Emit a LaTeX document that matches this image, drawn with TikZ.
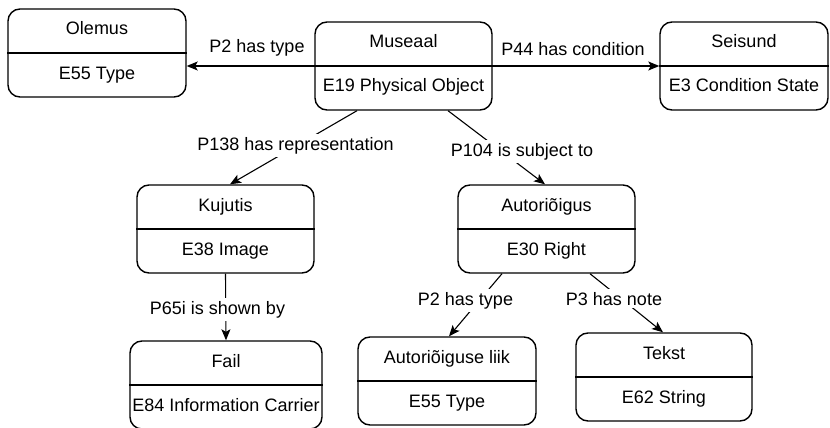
\documentclass[tikz,border=0pt]{standalone}
\usepackage{fontspec}
\setmainfont{Liberation Sans}
\usetikzlibrary{arrows.meta}

\tikzset{
  classbox/.style={draw, line width=1.4pt, rounded corners=12pt,
    minimum height=88pt, inner sep=0pt},
  divider/.style={line width=1.4pt},
  txt/.style={inner sep=0pt, anchor=base, font=\fontsize{18}{21}\selectfont},
  lbl/.style={fill=white, inner sep=3pt, anchor=base, font=\fontsize{18}{21}\selectfont},
  link/.style={line width=1.1pt, -{Stealth[length=11pt,width=9pt,inset=2.5pt]}},
}

% class box: name, x, y, width, title, class
\newcommand\crmclass[6]{%
  \node[classbox, minimum width=#4] (#1) at (#2,#3) {};
  \draw[divider] (#1.west) -- (#1.east);
  \node[txt] (#1-t) at ([yshift=18pt]#1.center) {#5};
  \node[txt] (#1-c) at ([yshift=-26pt]#1.center) {#6};
}

\begin{document}
\begin{tikzpicture}[x=1pt, y=-1pt]
  \useasboundingbox (0,0) rectangle (830,428);

  % classes
  \crmclass{ole}{97}{53}{178pt}{Olemus}{E55 Type}
  \crmclass{mus}{403.5}{66}{177pt}{Museaal}{E19 Physical Object}
  \crmclass{sei}{744}{66}{168pt}{Seisund}{E3 Condition State}
  \crmclass{kuj}{225.5}{229}{177pt}{Kujutis}{E38 Image}
  \crmclass{aut}{546.5}{229}{177pt}{Autoriõigus}{E30 Right}
  \crmclass{fail}{226}{385}{192pt}{Fail}{E84 Information Carrier}
  \crmclass{liik}{447}{381}{178pt}{Autoriõiguse liik}{E55 Type}
  \crmclass{tek}{664}{377}{176pt}{Tekst}{E62 String}

  % properties
  \draw[link] (mus.west) -- (mus.west -| ole.east);
  \draw[link] (mus.east) -- (sei.west);
  \draw[link] ([xshift=-46.5pt]mus.south) -- ([xshift=4.5pt]kuj.north);
  \draw[link] ([xshift=44.5pt]mus.south) -- ([xshift=-1.5pt]aut.north);
  \draw[link] (kuj.south) -- (fail.north);
  \draw[link] ([xshift=-44.5pt]aut.south) -- ([xshift=2pt]liik.north);
  \draw[link] ([xshift=43.5pt]aut.south) -- ([xshift=-1pt]tek.north);

  % property labels
  \node[lbl, fill=none] (l-type1) at (257,53) {P2 has type};
  \node[lbl, fill=none] (l-cond) at (573,56) {P44 has condition};
  \node[lbl] (l-repr) at (295.5,150) {P138 has representation};
  \node[lbl] (l-subj) at (522,156) {P104 is subject to};
  \node[lbl] (l-shown) at (217.5,314) {P65i is shown by};
  \node[lbl] (l-type2) at (465.5,305) {P2 has type};
  \node[lbl] (l-note) at (614,305) {P3 has note};
\end{tikzpicture}
\end{document}
